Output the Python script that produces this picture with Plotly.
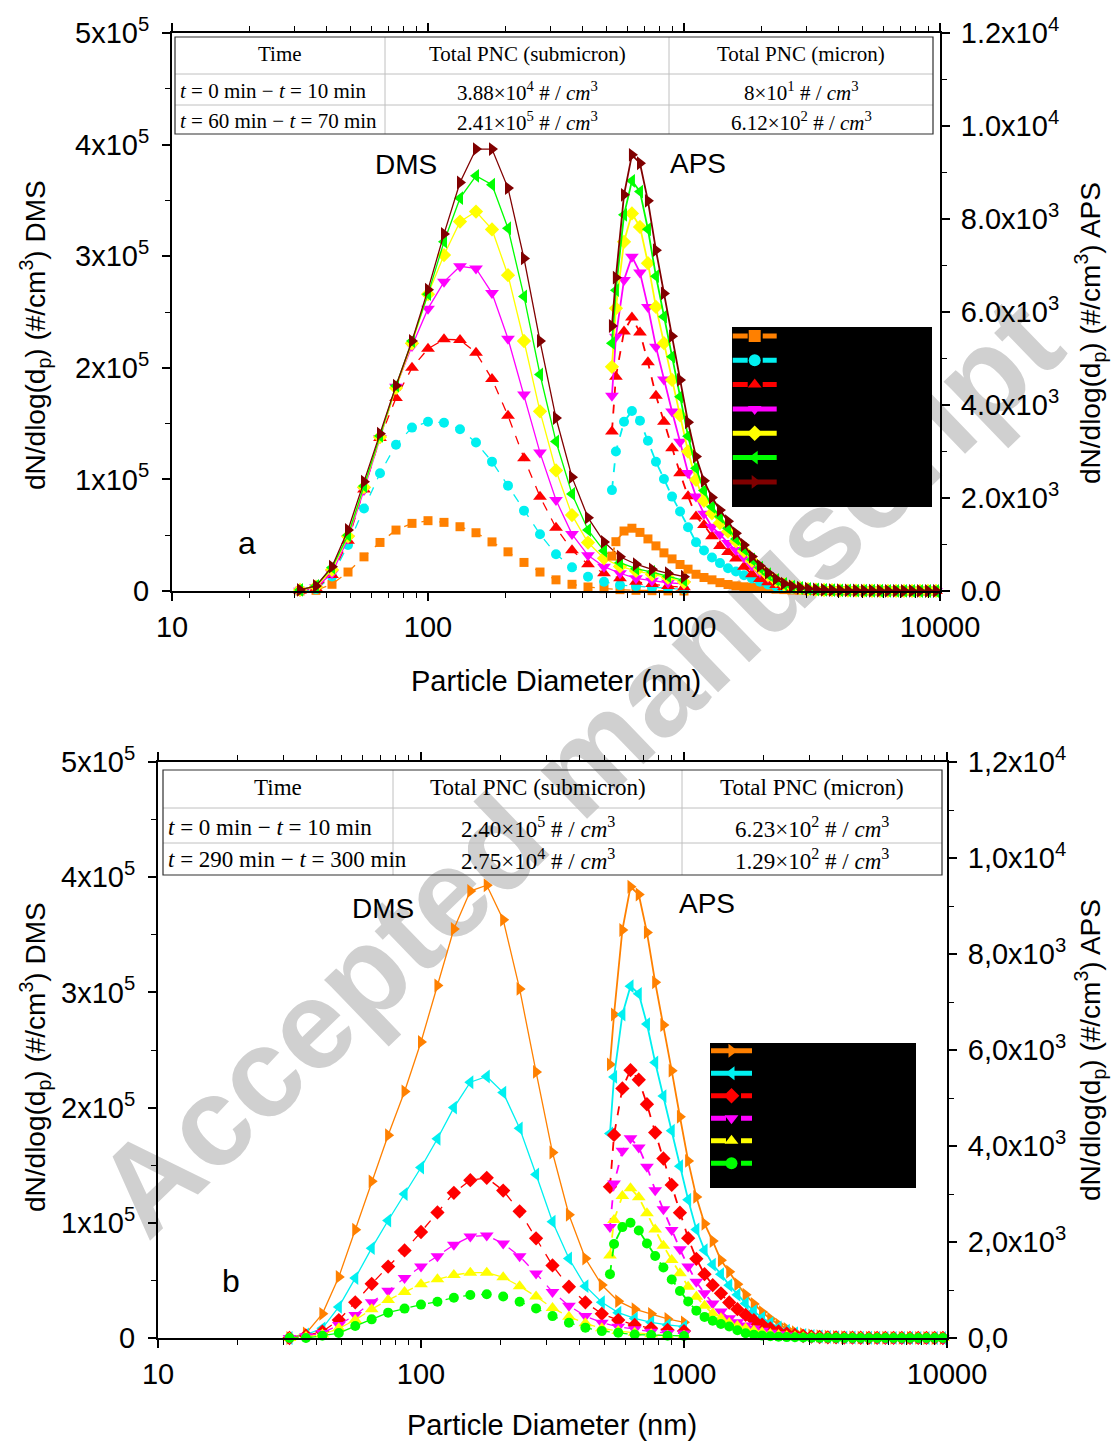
import plotly.graph_objects as go

W, H = 1116, 1441
def fx(p): return p / W
def fy(p): return 1 - p / H

# ---------------- data ----------------
dms_diam = [31.62, 36.52, 42.17, 48.70, 56.23, 64.94, 74.99, 86.60, 100.0, 115.48, 133.35, 153.99,
            177.83, 205.35, 237.14, 273.84, 316.23, 365.17, 421.70, 486.97, 562.34, 649.38, 749.89, 865.96, 1000.0]
aps_diam = [523, 542, 583, 626, 673, 723, 777, 835, 898, 965, 1037, 1114, 1197, 1286, 1382, 1486, 1596,
            1715, 1843, 1981, 2129, 2288, 2458, 2642, 2839, 3051, 3278, 3523, 3786, 4068, 4371, 4698,
            5048, 5425, 5829, 6264, 6732, 7234, 7774, 8354, 8977, 9647]

# panel a - DMS (#/cm3)
a_dms_orange = [0, 600, 6000, 17000, 30600, 43500, 54600, 60600, 63000, 61500, 57600, 52200, 44000, 35100, 25600, 17000, 10000, 6000, 3600, 2100, 1200, 600, 300, 100, 0]
a_dms_cyan = [0, 1500, 13000, 41300, 74000, 105500, 131000, 146400, 151700, 150800, 145000, 133000, 115900, 94400, 72000, 50800, 33000, 21200, 12800, 8300, 5300, 4400, 3300, 2400, 1500]
a_dms_red = [300, 2400, 14300, 45000, 91000, 137000, 173000, 200000, 217000, 225500, 225000, 213500, 190000, 157000, 119000, 84500, 56700, 36500, 23900, 15900, 11400, 8300, 6200, 4400, 3300]
a_dms_magenta = [300, 3300, 15900, 47000, 90500, 137000, 183000, 219500, 253000, 277000, 291000, 289000, 267000, 226000, 176000, 124000, 81500, 51000, 32000, 21800, 15900, 11400, 9200, 7400, 6300]
a_dms_yellow = [1000, 4000, 19000, 49000, 93000, 138000, 182000, 222000, 266000, 301000, 331000, 340000, 324000, 283000, 224000, 161000, 108000, 68000, 43400, 29300, 22000, 18000, 14700, 12000, 8000]
a_dms_green = [1000, 4500, 21000, 50000, 94000, 139000, 184000, 224000, 266000, 313000, 352000, 372000, 364000, 325000, 264000, 194000, 134000, 87000, 54700, 36000, 25400, 20000, 17000, 13000, 9600]
a_dms_darkred = [1000, 4500, 21800, 54700, 98000, 141000, 184000, 224000, 270000, 320000, 366000, 396000, 396000, 361000, 298000, 224000, 155000, 102000, 65700, 44000, 30700, 24000, 19400, 15900, 12800]

# panel a - APS (#/cm3)
a_aps_orange = [750, 1060, 1290, 1350, 1260, 1120, 970, 820, 690, 570, 470, 360, 290, 240, 180, 140,
                110, 90, 80, 60, 50, 40, 30, 22, 16, 12, 9, 7, 5, 4, 3, 3, 2, 2, 1, 1, 1, 1, 0, 0, 0, 0]
a_aps_cyan = [2170, 3000, 3640, 3870, 3660, 3230, 2780, 2410, 2030, 1710, 1370, 1050, 870, 720, 600, 490,
              420, 340, 270, 200, 140, 100, 70, 48, 34, 24, 17, 13, 10, 8, 6, 5, 4, 3, 2, 2, 1, 1, 1, 0, 0, 0]
a_aps_red = [3430, 4610, 5580, 5880, 5560, 4920, 4200, 3640, 3070, 2530, 2040, 1600, 1420, 1180, 970, 840,
             700, 520, 360, 260, 190, 130, 85, 55, 40, 28, 20, 15, 12, 9, 7, 6, 5, 4, 3, 2, 2, 1, 1, 1, 0, 0]
a_aps_magenta = [4200, 5470, 6690, 7190, 6850, 6110, 5250, 4550, 3860, 3210, 2540, 2030, 1660, 1380, 1220, 1030,
                 880, 720, 550, 410, 300, 200, 130, 80, 55, 40, 28, 20, 15, 12, 9, 7, 6, 5, 4, 3, 2, 2, 1, 1, 1, 0]
a_aps_yellow = [4820, 6080, 7510, 8120, 7830, 7050, 6110, 5330, 4540, 3780, 3000, 2390, 1940, 1670, 1460, 1280,
                1070, 860, 650, 480, 340, 230, 140, 90, 60, 42, 30, 22, 17, 13, 10, 8, 7, 5, 4, 3, 3, 2, 2, 1, 1, 1]
a_aps_green = [5330, 6470, 8090, 8820, 8590, 7780, 6770, 5900, 5040, 4180, 3330, 2640, 2160, 1810, 1600, 1350,
               1120, 900, 680, 500, 360, 240, 150, 95, 65, 45, 32, 23, 18, 14, 11, 9, 7, 6, 5, 4, 3, 2, 2, 1, 1, 1]
a_aps_darkred = [5700, 6740, 8520, 9380, 9200, 8390, 7330, 6400, 5480, 4540, 3630, 2890, 2370, 2010, 1740, 1500,
                 1240, 990, 740, 540, 390, 260, 160, 100, 70, 50, 35, 25, 20, 15, 12, 10, 8, 6, 5, 4, 3, 3, 2, 2, 1, 1]

# panel b - DMS (#/cm3)
b_dms_orange = [0, 4000, 21000, 53000, 94000, 136000, 176000, 214000, 257000, 306000, 355000, 388000, 393000, 363000, 303000, 231000, 161000, 107000, 69000, 46000, 32000, 25000, 21000, 16500, 13600]
b_dms_cyan = [0, 3000, 8400, 27000, 52000, 78000, 102000, 125000, 148000, 173000, 200000, 222000, 227000, 213000, 182000, 142000, 101000, 69000, 45000, 31000, 22000, 17000, 13600, 11300, 9800]
b_dms_red = [0, 2000, 5500, 15600, 31000, 47000, 62000, 76000, 92000, 109000, 126000, 137000, 139000, 128000, 110000, 86500, 63000, 44500, 31000, 21000, 15600, 11300, 8400, 7000, 6000]
b_dms_magenta = [0, 1500, 4300, 11300, 20000, 31000, 41000, 52000, 62000, 71000, 81000, 88000, 89000, 82000, 71000, 56000, 40000, 28000, 19000, 13300, 9800, 7500, 5500, 4300, 3800]
b_dms_yellow = [0, 1000, 3000, 8400, 15600, 25000, 33000, 40000, 46600, 51000, 54700, 56700, 56700, 52700, 45000, 36000, 26000, 18500, 12800, 8400, 6000, 4600, 3200, 2000, 2000]
b_dms_green = [0, 0, 2000, 4300, 10400, 16200, 22000, 25500, 29000, 31500, 35000, 37300, 38000, 36000, 31500, 25700, 19000, 13300, 9000, 6000, 4600, 3000, 2600, 2000, 1700]

# panel b - APS (#/cm3)
b_aps_orange = [5700, 6740, 8500, 9400, 9240, 8450, 7410, 6520, 5570, 4610, 3690, 2940, 2380, 2020, 1620, 1380,
                1120, 900, 710, 540, 400, 280, 190, 120, 80, 55, 38, 27, 20, 15, 12, 9, 7, 6, 5, 4, 3, 2, 2, 1, 1, 1]
b_aps_cyan = [4260, 5440, 6740, 7330, 7170, 6540, 5740, 5040, 4320, 3580, 2880, 2260, 1830, 1530, 1330, 1100,
              900, 720, 560, 420, 310, 220, 150, 100, 65, 45, 32, 23, 17, 13, 10, 8, 6, 5, 4, 3, 2, 2, 1, 1, 1, 0]
b_aps_red = [3150, 4230, 5200, 5580, 5380, 4870, 4280, 3740, 3190, 2610, 2080, 1650, 1330, 1100, 930, 740,
             600, 480, 370, 280, 200, 140, 95, 62, 42, 30, 21, 15, 11, 9, 7, 5, 4, 3, 3, 2, 2, 1, 1, 1, 0, 0]
b_aps_magenta = [2310, 3220, 3900, 4160, 3970, 3570, 3080, 2680, 2250, 1850, 1490, 1170, 930, 720, 550, 410,
                 330, 260, 200, 150, 110, 78, 54, 37, 26, 18, 13, 10, 8, 6, 5, 4, 3, 2, 2, 1, 1, 1, 1, 0, 0, 0]
b_aps_yellow = [1720, 2460, 2960, 3120, 2930, 2600, 2260, 1920, 1625, 1350, 1070, 860, 670, 510, 410, 310,
                250, 200, 150, 115, 85, 60, 42, 30, 21, 15, 11, 8, 6, 5, 4, 3, 2, 2, 1, 1, 1, 1, 0, 0, 0, 0]
b_aps_green = [1330, 1960, 2310, 2400, 2240, 1970, 1710, 1470, 1220, 980, 760, 570, 440, 360, 290, 240,
               160, 100, 70, 50, 38, 27, 19, 14, 10, 7, 5, 4, 3, 2, 2, 1, 1, 1, 1, 0, 0, 0, 0, 0, 0, 0]

# series names / styles
a_names = ["0–10 min", "10–20 min", "20–30 min", "30–40 min", "40–50 min", "50–60 min", "60–70 min"]
a_colors = ["#FF8000", "#00F0F0", "#FF0000", "#FF00FF", "#FFFF00", "#00FF00", "#800000"]
a_symbols = ["square", "circle", "triangle-up", "triangle-down", "diamond", "triangle-left", "triangle-right"]
a_sizes = [9, 10, 12, 12, 11, 12, 12]
a_dashes = ["dash", "dash", "dash", "solid", "solid", "solid", "solid"]
a_dms = [a_dms_orange, a_dms_cyan, a_dms_red, a_dms_magenta, a_dms_yellow, a_dms_green, a_dms_darkred]
a_aps = [a_aps_orange, a_aps_cyan, a_aps_red, a_aps_magenta, a_aps_yellow, a_aps_green, a_aps_darkred]

b_names = ["0–10 min", "50–60 min", "110–120 min", "170–180 min", "230–240 min", "290–300 min"]
b_colors = ["#FF8000", "#00F0F0", "#FF0000", "#FF00FF", "#FFFF00", "#00FF00"]
b_symbols = ["triangle-right", "triangle-left", "diamond", "triangle-down", "triangle-up", "circle"]
b_sizes = [12, 12, 11, 12, 12, 10]
b_dashes = ["solid", "solid", "dash", "dash", "dash", "dash"]
b_dms = [b_dms_orange, b_dms_cyan, b_dms_red, b_dms_magenta, b_dms_yellow, b_dms_green]
b_aps = [b_aps_orange, b_aps_cyan, b_aps_red, b_aps_magenta, b_aps_yellow, b_aps_green]

x_tickvals = [10, 100, 1000, 10000]
x_ticktext = ["10", "100", "1000", "10000"]
x_minor = [20, 30, 40, 50, 60, 70, 80, 90, 200, 300, 400, 500, 600, 700, 800, 900,
           2000, 3000, 4000, 5000, 6000, 7000, 8000, 9000]
y_left_vals = [0, 1e5, 2e5, 3e5, 4e5, 5e5]
y_left_text = ["0", "1x10<sup>5</sup>", "2x10<sup>5</sup>", "3x10<sup>5</sup>", "4x10<sup>5</sup>", "5x10<sup>5</sup>"]
y_left_minor = [0.5e5, 1.5e5, 2.5e5, 3.5e5, 4.5e5]
y_right_vals = [0, 2000, 4000, 6000, 8000, 10000, 12000]
y_right_text_a = ["0.0", "2.0x10<sup>3</sup>", "4.0x10<sup>3</sup>", "6.0x10<sup>3</sup>",
                  "8.0x10<sup>3</sup>", "1.0x10<sup>4</sup>", "1.2x10<sup>4</sup>"]
y_right_text_b = ["0,0", "2,0x10<sup>3</sup>", "4,0x10<sup>3</sup>", "6,0x10<sup>3</sup>",
                  "8,0x10<sup>3</sup>", "1,0x10<sup>4</sup>", "1,2x10<sup>4</sup>"]
y_right_minor = [1000, 3000, 5000, 7000, 9000, 11000]

fig = go.Figure()

def add_panel(names, colors, symbols, sizes, dashes, dms, aps, xa, yl, yr, leg):
    for n, c, s, sz, d, yd, ya in zip(names, colors, symbols, sizes, dashes, dms, aps):
        fig.add_trace(go.Scatter(
            x=dms_diam, y=yd, name=n, mode="lines+markers", xaxis=xa, yaxis=yl,
            legend=leg, legendgroup=leg + n, showlegend=True, cliponaxis=False,
            line=dict(color=c, width=1.3, dash=d),
            marker=dict(symbol=s, size=sz, color=c, line=dict(width=0)),
            hoverinfo="skip"))
        fig.add_trace(go.Scatter(
            x=aps_diam, y=ya, name=n, mode="lines+markers", xaxis=xa, yaxis=yr,
            legend=leg, legendgroup=leg + n, showlegend=False, cliponaxis=False,
            line=dict(color=c, width=1.8, dash=d),
            marker=dict(symbol=s, size=sz, color=c, line=dict(width=0)),
            hoverinfo="skip"))

add_panel(a_names, a_colors, a_symbols, a_sizes, a_dashes, a_dms, a_aps, "x", "y", "y2", "legend")
add_panel(b_names, b_colors, b_symbols, b_sizes, b_dashes, b_dms, b_aps, "x2", "y3", "y4", "legend2")

tickfont = dict(family="Liberation Sans", size=29, color="black")
common = dict(showline=True, linecolor="black", linewidth=2, ticks="outside", tickcolor="black",
              tickwidth=1.5, ticklen=8, tickfont=tickfont, showgrid=False, zeroline=False,
              automargin=False)

def xaxis(dom, anchor):
    return dict(common, domain=dom, anchor=anchor, type="log", range=[1, 4], tickmode="array",
                tickvals=x_tickvals, ticktext=x_ticktext, mirror="ticks", ticklabelstandoff=1,
                minor=dict(tickmode="array", tickvals=x_minor, ticks="outside", ticklen=5,
                           tickcolor="black", tickwidth=1.2))

def yleft(dom, anchor):
    return dict(common, domain=dom, anchor=anchor, range=[0, 5e5], tickmode="array",
                tickvals=y_left_vals, ticktext=y_left_text, mirror=False, ticklabelstandoff=7,
                minor=dict(tickmode="array", tickvals=y_left_minor, ticks="outside", ticklen=5,
                           tickcolor="black", tickwidth=1.2))

def yright(over, anchor, texts):
    return dict(common, overlaying=over, anchor=anchor, side="right", range=[0, 1.2e4],
                tickmode="array", tickvals=y_right_vals, ticktext=texts, ticklabelstandoff=5,
                minor=dict(tickmode="array", tickvals=y_right_minor, ticks="outside", ticklen=5,
                           tickcolor="black", tickwidth=1.2))

shapes = []
annotations = []

# watermark
shapes.append(dict(type="rect", xref="paper", yref="paper", x0=fx(560), x1=fx(580), y0=fy(768), y1=fy(748),
                   line=dict(width=0), fillcolor="rgba(0,0,0,0)", layer="below",
                   label=dict(text="Accepted manuscript", textangle=-44, textposition="middle center",
                              font=dict(family="Liberation Sans", size=126, color="#d0d0d0", weight="bold"))))

# legend backgrounds
shapes.append(dict(type="rect", xref="paper", yref="paper", x0=fx(732), x1=fx(932), y0=fy(507), y1=fy(327),
                   fillcolor="black", line=dict(width=0), layer="above"))
shapes.append(dict(type="rect", xref="paper", yref="paper", x0=fx(710), x1=fx(916), y0=fy(1188), y1=fy(1043),
                   fillcolor="black", line=dict(width=0), layer="above"))

def table(x0, x1, y0, y1, cols, rows, texts, left_x, col_centers, row_centers, fsize):
    for cx in cols:
        shapes.append(dict(type="line", xref="paper", yref="paper", x0=fx(cx), x1=fx(cx), y0=fy(y1), y1=fy(y0),
                           line=dict(color="#c0c0c0", width=1), layer="above"))
    for ry in rows:
        shapes.append(dict(type="line", xref="paper", yref="paper", x0=fx(x0), x1=fx(x1), y0=fy(ry), y1=fy(ry),
                           line=dict(color="#c0c0c0", width=1), layer="above"))
    shapes.append(dict(type="rect", xref="paper", yref="paper", x0=fx(x0), x1=fx(x1), y0=fy(y1), y1=fy(y0),
                       line=dict(color="#303030", width=1.2), fillcolor="rgba(0,0,0,0)", layer="above"))
    for r, row in enumerate(texts):
        for c, t in enumerate(row):
            if c == 0 and r > 0:
                annotations.append(dict(x=fx(left_x), y=fy(row_centers[r]), xref="paper", yref="paper",
                                        text=t, showarrow=False, xanchor="left", yanchor="middle",
                                        font=dict(family="Liberation Serif", size=fsize, color="black")))
            else:
                annotations.append(dict(x=fx(col_centers[c]), y=fy(row_centers[r]), xref="paper", yref="paper",
                                        text=t, showarrow=False, xanchor="center", yanchor="middle",
                                        font=dict(family="Liberation Serif", size=fsize, color="black")))

cm3 = " # / <i>cm</i><sup>3</sup>"
table_a = [["Time", "Total PNC (submicron)", "Total PNC (micron)"],
           ["<i>t</i> = 0 min − <i>t</i> = 10 min", "3.88×10<sup>4</sup>" + cm3, "8×10<sup>1</sup>" + cm3],
           ["<i>t</i> = 60 min − <i>t</i> = 70 min", "2.41×10<sup>5</sup>" + cm3, "6.12×10<sup>2</sup>" + cm3]]
table_b = [["Time", "Total PNC (submicron)", "Total PNC (micron)"],
           ["<i>t</i> = 0 min − <i>t</i> = 10 min", "2.40×10<sup>5</sup>" + cm3, "6.23×10<sup>2</sup>" + cm3],
           ["<i>t</i> = 290 min − <i>t</i> = 300 min", "2.75×10<sup>4</sup>" + cm3, "1.29×10<sup>2</sup>" + cm3]]

table(175, 933, 37, 134, [385, 669], [74, 105], table_a, 178, [280, 527, 801], [54, 91, 121], 21)
table(163, 942, 770, 875, [393, 682], [808, 843], table_b, 166, [278, 538, 812], [787, 827, 859], 23)

def label(x, y, t, size=28, angle=0):
    annotations.append(dict(x=fx(x), y=fy(y), xref="paper", yref="paper", text=t, showarrow=False,
                            xanchor="center", yanchor="middle", textangle=angle,
                            font=dict(family="Liberation Sans", size=size, color="black")))

label(406, 165, "DMS")
label(698, 163, "APS")
label(383, 908, "DMS")
label(707, 904, "APS")
label(247, 543, "a", 32)
label(231, 1281, "b", 32)
ytitle_l = "dN/dlog(d<sub>p</sub>) (#/cm<sup>3</sup>) DMS"
ytitle_r = "dN/dlog(d<sub>p</sub>) (#/cm<sup>3</sup>) APS"
label(556, 681, "Particle Diameter (nm)", 29)
label(552, 1425, "Particle Diameter (nm)", 29)
label(35, 335, ytitle_l, 28, -90)
label(1090, 333, ytitle_r, 28, -90)
label(35, 1057, ytitle_l, 28, -90)
label(1090, 1050, ytitle_r, 28, -90)

fig.update_layout(
    width=W, height=H, autosize=False,
    margin=dict(l=0, r=0, t=0, b=0),
    paper_bgcolor="white", plot_bgcolor="rgba(0,0,0,0)",
    xaxis=xaxis([fx(172), fx(940)], "y"),
    yaxis=yleft([fy(591), fy(33)], "x"),
    yaxis2=yright("y", "x", y_right_text_a),
    xaxis2=xaxis([fx(158), fx(947)], "y3"),
    yaxis3=yleft([fy(1338), fy(762)], "x2"),
    yaxis4=yright("y3", "x2", y_right_text_b),
    legend=dict(x=fx(727.7), y=fy(318.8), xanchor="left", yanchor="top", bgcolor="rgba(0,0,0,0)",
                borderwidth=0, font=dict(family="Liberation Sans", size=16.4, color="black"),
                itemwidth=44, itemsizing="constant", tracegroupgap=0),
    legend2=dict(x=fx(706), y=fy(1034.5), xanchor="left", yanchor="top", bgcolor="rgba(0,0,0,0)",
                 borderwidth=0, font=dict(family="Liberation Sans", size=15, color="black"),
                 itemwidth=41, itemsizing="constant", tracegroupgap=0),
    shapes=shapes, annotations=annotations, hovermode=False,
)

fig.write_html("out.html")
